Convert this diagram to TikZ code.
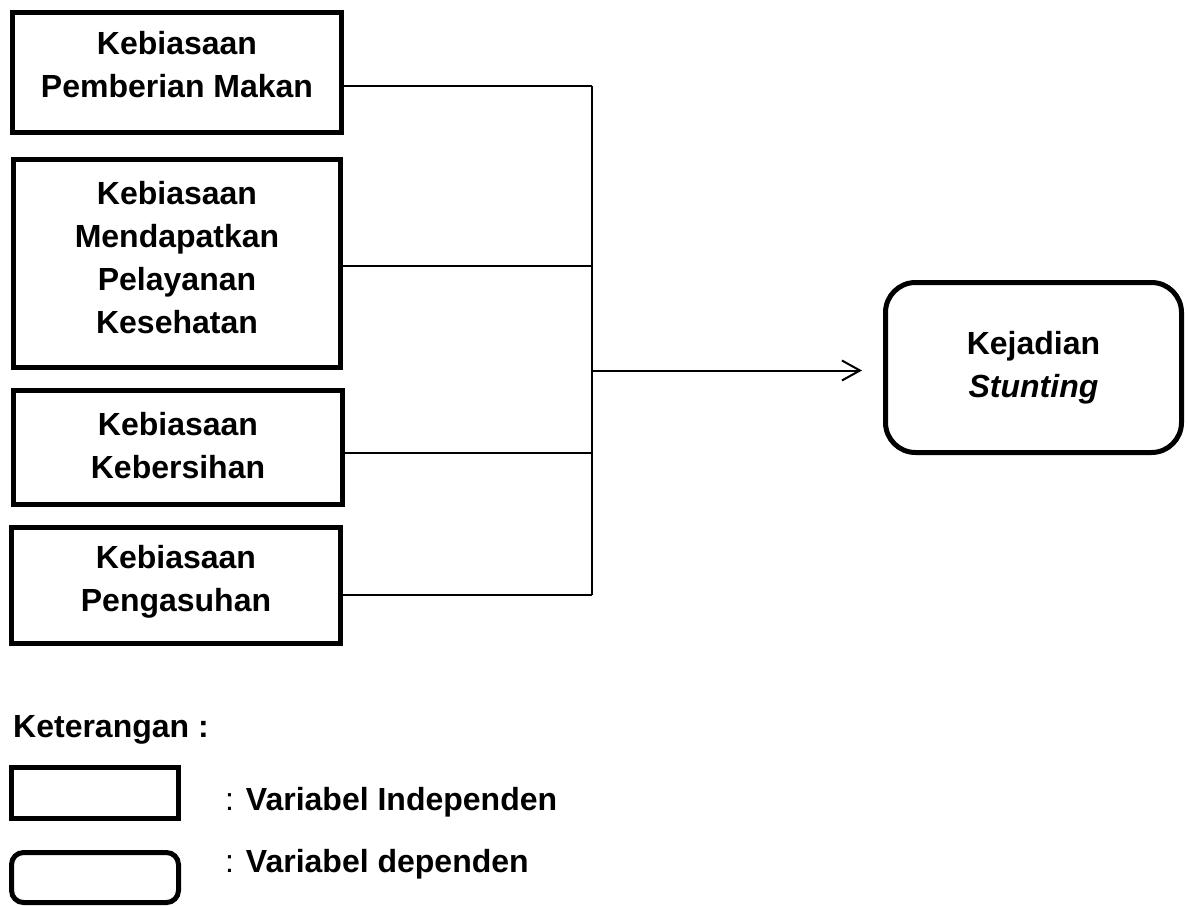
\documentclass[tikz,border=0pt]{standalone}
\usepackage{fontspec}
\setmainfont{Liberation Sans}
\usetikzlibrary{arrows.meta}
\tikzset{
indep/.style={draw, line width=5pt, align=center, inner sep=0pt,
  font=\bfseries\fontsize{32}{43}\selectfont},
dep/.style={indep, rounded corners=30pt},
conn/.style={line width=2pt},
legtext/.style={anchor=base west, inner sep=0pt,
  font=\bfseries\fontsize{32}{43}\selectfont}
}

\begin{document}
\begin{tikzpicture}[x=1pt,y=-1pt]
\useasboundingbox (0,0) rectangle (1189,907);

\node[indep, minimum width=329pt, minimum height=120pt, text depth=17pt] (makan) at (177,72.5) {Kebiasaan\\Pemberian Makan};
\node[indep, minimum width=327pt, minimum height=208pt, text depth=12pt] (layanan) at (177,263.5) {Kebiasaan\\Mendapatkan\\Pelayanan\\Kesehatan};
\node[indep, minimum width=329pt, minimum height=114pt, text depth=5pt] (bersih) at (178,447.5) {Kebiasaan\\Kebersihan};
\node[indep, minimum width=329pt, minimum height=116pt, text depth=14pt] (asuh) at (176,585.5) {Kebiasaan\\Pengasuhan};

\node[dep, minimum width=296pt, minimum height=170pt] (stunting) at (1033.5,367.5) {Kejadian\\\textit{Stunting}};

\coordinate (j1) at (592,86);
\coordinate (j2) at (592,266);
\coordinate (j3) at (592,453);
\coordinate (j4) at (592,595);
\coordinate (j0) at (592,370.5);
\coordinate (tip) at (862,370.5);

\draw[conn] (j1) -- (j4);
\foreach \b [count=\i] in {makan, layanan, bersih, asuh}{
  \draw[conn] (\b.east |- j\i) -- (j\i);
}
\draw[conn, -{Straight Barb[length=18pt,width=20pt]}] (j0) -- (tip);

% keterangan
\node[legtext] (ket) at (13,737) {Keterangan :};
\node[indep, minimum width=167pt, minimum height=51pt] (legind) at (95,793) {};
\node[dep, rounded corners=12pt, minimum width=167pt, minimum height=50pt] (legdep) at (95,877.5) {};
\node[legtext] (txtind) at (225,810) {{\mdseries :} Variabel Independen};
\node[legtext] (txtdep) at (225,872) {{\mdseries :} Variabel dependen};

\end{tikzpicture}
\end{document}
